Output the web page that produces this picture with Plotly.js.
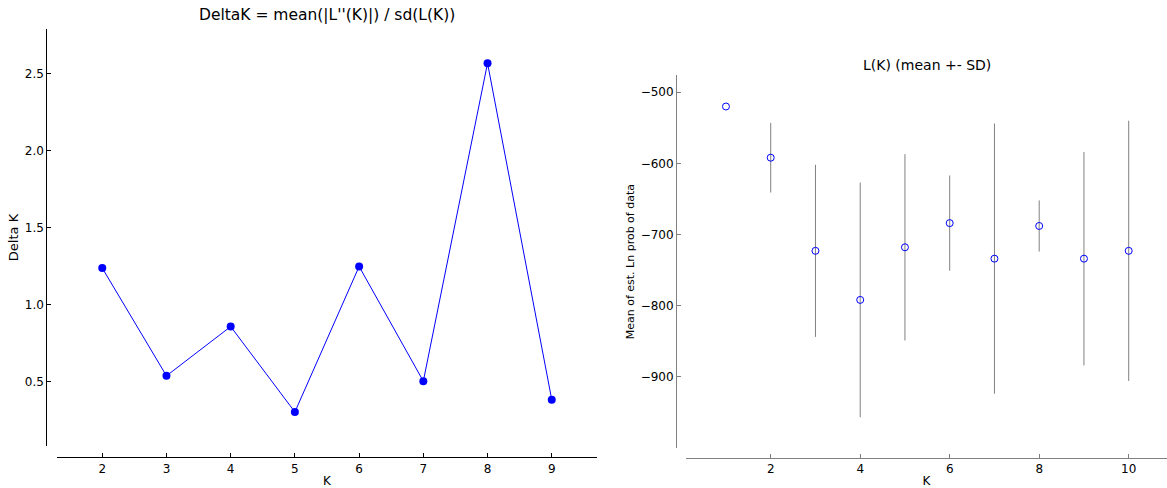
<!DOCTYPE html>
<html>
<head>
<meta charset="utf-8">
<script src="https://cdn.plot.ly/plotly-3.0.1.min.js"></script>
<style>html,body{margin:0;padding:0;background:#fff;}#chart{width:1167px;height:488px;}</style>
</head>
<body>
<div id="chart"></div>
<script>
// Left panel: Delta K
const deltaK_K = [2, 3, 4, 5, 6, 7, 8, 9];
const deltaK_values = [1.24, 0.54, 0.86, 0.305, 1.25, 0.505, 2.57, 0.385];
const deltaK_xticks = [2, 3, 4, 5, 6, 7, 8, 9];
const deltaK_yticks = [0.5, 1.0, 1.5, 2.0, 2.5];
const deltaK_yticklabels = ["0.5", "1.0", "1.5", "2.0", "2.5"];

// Right panel: L(K) mean +- SD
const LK_K = [1, 2, 3, 4, 5, 6, 7, 8, 9, 10];
const LK_mean = [-520, -592, -723, -792, -718, -684, -734, -688, -734, -723];
const LK_sd = [0, 49, 121, 165, 131, 67, 190, 36, 150, 183];
const LK_xticks = [2, 4, 6, 8, 10];
const LK_yticks = [-900, -800, -700, -600, -500];

const W = 1167, H = 488;
const px = x => x / W;
const py = y => 1 - y / H;
const font = "DejaVu Sans, sans-serif";

const traces = [
  {
    x: deltaK_K, y: deltaK_values, type: 'scatter', mode: 'lines+markers',
    xaxis: 'x', yaxis: 'y',
    line: {color: '#0000ff', width: 1},
    marker: {color: '#0000ff', size: 8},
    cliponaxis: false, hoverinfo: 'x+y'
  },
  {
    x: LK_K, y: LK_mean, type: 'scatter', mode: 'markers',
    xaxis: 'x2', yaxis: 'y2',
    marker: {symbol: 'circle-open', color: '#0000ff', size: 7, line: {width: 1, color: '#0000ff'}},
    error_y: {type: 'data', array: LK_sd, visible: true, color: '#808080', thickness: 1, width: 0},
    cliponaxis: false
  }
];

const baseAxis = {
  showgrid: false, zeroline: false, showline: true,
  ticks: 'inside', ticklen: 4, tickwidth: 1,
  tickfont: {family: font, size: 12, color: '#000'},
  anchor: 'free', automargin: false
};

const layout = {
  width: W, height: H,
  margin: {l: 0, r: 0, t: 0, b: 0},
  paper_bgcolor: '#fff', plot_bgcolor: 'rgba(0,0,0,0)',
  showlegend: false,
  font: {family: font, size: 12, color: '#000'},
  xaxis: Object.assign({}, baseAxis, {
    domain: [px(57.3), px(596.7)], position: py(457.3),
    range: [1.3, 9.7], tickvals: deltaK_xticks,
    linecolor: '#000', tickcolor: '#000', linewidth: 1,
    title: {text: 'K', font: {family: font, size: 12}, standoff: 4}
  }),
  yaxis: Object.assign({}, baseAxis, {
    domain: [py(446), py(29)], position: px(46.3),
    range: [0.0844, 2.792], tickvals: deltaK_yticks, ticktext: deltaK_yticklabels,
    linecolor: '#000', tickcolor: '#000', linewidth: 1,
    title: {text: 'Delta K', font: {family: font, size: 13}, standoff: 2}
  }),
  xaxis2: Object.assign({}, baseAxis, {
    domain: [px(686), 1], position: py(458),
    range: [0.107, 10.856], tickvals: LK_xticks,
    linecolor: '#808080', tickcolor: '#808080', linewidth: 1,
    title: {text: 'K', font: {family: font, size: 12}, standoff: 4}
  }),
  yaxis2: Object.assign({}, baseAxis, {
    domain: [py(448.3), py(75)], position: px(676),
    range: [-1000.7, -475.7], tickvals: LK_yticks,
    linecolor: '#808080', tickcolor: '#808080', linewidth: 1,
    title: {text: 'Mean of est. Ln prob of data', font: {family: font, size: 11}, standoff: 2}
  }),
  annotations: [
    {text: "DeltaK = mean(|L''(K)|) / sd(L(K))", xref: 'paper', yref: 'paper',
     x: px(327), y: py(15), xanchor: 'center', yanchor: 'middle', showarrow: false,
     font: {family: font, size: 15.5, color: '#000'}},
    {text: "L(K) (mean +- SD)", xref: 'paper', yref: 'paper',
     x: px(927), y: py(65), xanchor: 'center', yanchor: 'middle', showarrow: false,
     font: {family: font, size: 14, color: '#000'}}
  ]
};

Plotly.newPlot('chart', traces, layout, {displayModeBar: false, staticPlot: true});
</script>
</body>
</html>
